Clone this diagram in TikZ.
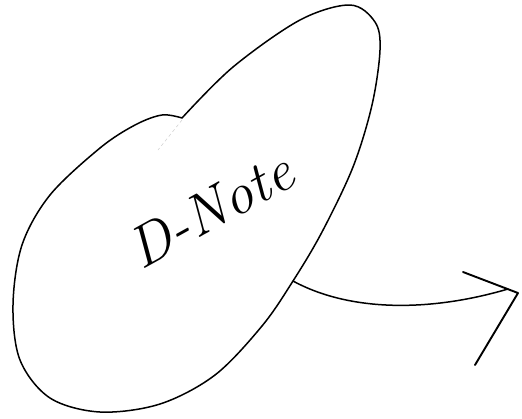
\documentclass[tikz,border=0pt]{standalone}
\usepackage{fontspec}
\usepackage{tikz}

\begin{document}
\begin{tikzpicture}[x=1pt,y=-1pt,line width=1.5pt,line cap=round,line join=round]
    \useasboundingbox (0,0) rectangle (522,418);

    % Blob
    \draw plot[smooth, tension=0.55] coordinates {(182,118) (233,67) (300,20) (350,5) (375,22) (380,50) (372,105) (353,167) (322,232) (293,281) (262,326) (215,375) (160,404) (100,412) (50,398) (20,360) (13,305) (22,245) (50,195) (100,148) (135,125) (162,115) (182,118)};
    \draw[gray!40,line width=0.5pt,dashed] (182,120) -- (158,150);

    % Label
    \node[rotate=29,font={\itshape\fontsize{58}{58}\selectfont}] (dnote) at (210,210) {D-Note};

    % Connector
    \coordinate (exit) at (293,281);
    \coordinate (tip) at (508,289);
    \draw (exit) .. controls (350,312) and (430,312) .. (tip);
    \draw[line width=1.9pt] (463,272) -- (518,293) -- (475,365);
\end{tikzpicture}
\end{document}
